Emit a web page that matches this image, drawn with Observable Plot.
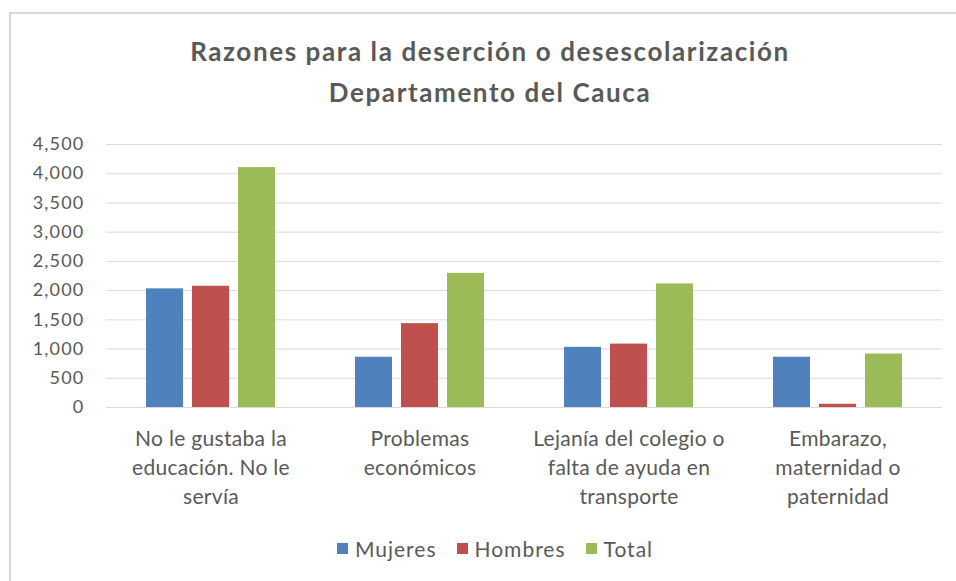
<!DOCTYPE html>
<html><head><meta charset="utf-8">
<script src="https://cdn.jsdelivr.net/npm/d3@7"></script>
<script src="https://cdn.jsdelivr.net/npm/@observablehq/plot@0.6"></script>
<style>
body{margin:0;background:#fff;}
#wrap{position:relative;width:956px;height:581px;overflow:hidden;font-family:Lato,"Open Sans",sans-serif;color:#595959;}
#frame{position:absolute;left:9px;top:12px;width:1000px;height:620px;border:2px solid #d9d9d9;box-sizing:border-box;}
#title{position:absolute;left:0;top:31px;width:980px;text-align:center;font-weight:bold;font-size:26px;line-height:41px;letter-spacing:1.6px;}
#chart{position:absolute;left:0;top:130px;}
#legend{position:absolute;left:0;top:536px;width:990px;display:flex;justify-content:center;gap:20px;font-size:21px;letter-spacing:1px;}
.item{display:flex;align-items:center;gap:7px}
.sw{width:11px;height:11px;display:inline-block}
.yax text{letter-spacing:1.2px;}
.fxax text{letter-spacing:0.3px;}
</style></head><body>
<div id="wrap"><div id="frame"></div><div id="title"></div><div id="chart"></div><div id="legend"></div></div>
<script>
const titleLines = ["Razones para la deserción o desescolarización", "Departamento del Cauca"];
const categories = [
  "No le gustaba la\neducación. No le\nservía",
  "Problemas\neconómicos",
  "Lejanía del colegio o\nfalta de ayuda en\ntransporte",
  "Embarazo,\nmaternidad o\npaternidad"
];
const series = ["Mujeres", "Hombres", "Total"];
const mujeres = [2030, 860, 1030, 860];
const hombres = [2075, 1435, 1085, 55];
const total = [4105, 2295, 2115, 915];
const colors = ["#4F81BD", "#C0504D", "#9BBB59"];
const yTicks = [0, 500, 1000, 1500, 2000, 2500, 3000, 3500, 4000, 4500];

const valuesBySeries = [mujeres, hombres, total];
const data = categories.flatMap((c, i) => series.map((s, j) => ({cat: c, serie: s, value: valuesBySeries[j][i]})));

document.getElementById("title").innerHTML = titleLines.join("<br>");

const chart = Plot.plot({
  width: 956, height: 390,
  marginLeft: 105, marginRight: 14, marginTop: 14, marginBottom: 113,
  style: {fontFamily: 'Lato,"Open Sans",sans-serif', fontSize: "18px", color: "#595959", background: "transparent"},
  fx: {domain: categories, padding: 0, label: null},
  x: {domain: series, paddingInner: 0.2, paddingOuter: 0.855, axis: null},
  y: {domain: [0, 4500]},
  color: {domain: series, range: colors},
  marks: [
    Plot.gridY(yTicks, {stroke: "#d9d9d9", strokeOpacity: 1}),
    Plot.axisY(yTicks, {tickSize: 0, tickPadding: 22, tickFormat: d3.format(","), fontSize: 18, label: null, className: "yax"}),
    Plot.axisFx({tickSize: 0, tickPadding: 18, lineHeight: 1.38, fontSize: 21, label: null, anchor: "bottom", className: "fxax"}),
    Plot.barY(data, {fx: "cat", x: "serie", y: "value", fill: "serie"})
  ]
});
document.getElementById("chart").appendChild(chart);

const legend = document.getElementById("legend");
series.forEach((s, i) => {
  const it = document.createElement("div"); it.className = "item";
  const sw = document.createElement("span"); sw.className = "sw"; sw.style.background = colors[i];
  const t = document.createElement("span"); t.textContent = s;
  it.appendChild(sw); it.appendChild(t); legend.appendChild(it);
});
</script>
</body></html>
